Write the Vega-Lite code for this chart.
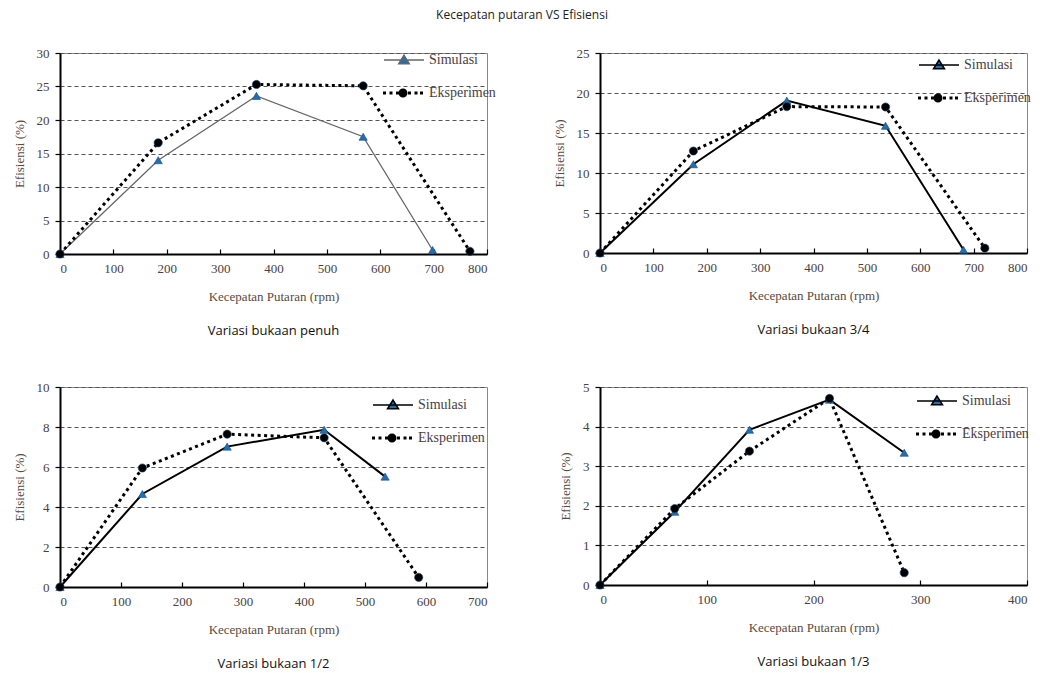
{
  "$schema": "https://vega.github.io/schema/vega-lite/v6.json",
  "background": "white",
  "padding": {"left": 12, "top": 8, "right": 5, "bottom": 5},
  "title": {"text": "Kecepatan putaran VS Efisiensi", "orient": "top", "font": "Open Sans", "fontSize": 12, "fontWeight": "normal", "color": "#222", "anchor": "middle", "offset": 22},
  "data": {"values": [
    {"panel": "penuh", "series": "Simulasi", "rpm": 0, "eff": 0},
    {"panel": "penuh", "series": "Simulasi", "rpm": 184, "eff": 14.0},
    {"panel": "penuh", "series": "Simulasi", "rpm": 368, "eff": 23.6},
    {"panel": "penuh", "series": "Simulasi", "rpm": 568, "eff": 17.5},
    {"panel": "penuh", "series": "Simulasi", "rpm": 698, "eff": 0.6},
    {"panel": "penuh", "series": "Eksperimen", "rpm": 0, "eff": 0},
    {"panel": "penuh", "series": "Eksperimen", "rpm": 184, "eff": 16.6},
    {"panel": "penuh", "series": "Eksperimen", "rpm": 368, "eff": 25.3},
    {"panel": "penuh", "series": "Eksperimen", "rpm": 568, "eff": 25.1},
    {"panel": "penuh", "series": "Eksperimen", "rpm": 768, "eff": 0.4},
    {"panel": "tiga", "series": "Simulasi", "rpm": 0, "eff": 0},
    {"panel": "tiga", "series": "Simulasi", "rpm": 175, "eff": 11.1},
    {"panel": "tiga", "series": "Simulasi", "rpm": 350, "eff": 19.05},
    {"panel": "tiga", "series": "Simulasi", "rpm": 535, "eff": 15.9},
    {"panel": "tiga", "series": "Simulasi", "rpm": 681, "eff": 0.4},
    {"panel": "tiga", "series": "Eksperimen", "rpm": 0, "eff": 0},
    {"panel": "tiga", "series": "Eksperimen", "rpm": 175, "eff": 12.75},
    {"panel": "tiga", "series": "Eksperimen", "rpm": 350, "eff": 18.3},
    {"panel": "tiga", "series": "Eksperimen", "rpm": 535, "eff": 18.25},
    {"panel": "tiga", "series": "Eksperimen", "rpm": 721, "eff": 0.6},
    {"panel": "dua", "series": "Simulasi", "rpm": 0, "eff": 0},
    {"panel": "dua", "series": "Simulasi", "rpm": 135, "eff": 4.65},
    {"panel": "dua", "series": "Simulasi", "rpm": 274, "eff": 7.02},
    {"panel": "dua", "series": "Simulasi", "rpm": 433, "eff": 7.86},
    {"panel": "dua", "series": "Simulasi", "rpm": 533, "eff": 5.52},
    {"panel": "dua", "series": "Eksperimen", "rpm": 0, "eff": 0},
    {"panel": "dua", "series": "Eksperimen", "rpm": 135, "eff": 5.95},
    {"panel": "dua", "series": "Eksperimen", "rpm": 274, "eff": 7.64},
    {"panel": "dua", "series": "Eksperimen", "rpm": 433, "eff": 7.46},
    {"panel": "dua", "series": "Eksperimen", "rpm": 588, "eff": 0.48},
    {"panel": "sepertiga", "series": "Simulasi", "rpm": 0, "eff": 0},
    {"panel": "sepertiga", "series": "Simulasi", "rpm": 70, "eff": 1.85},
    {"panel": "sepertiga", "series": "Simulasi", "rpm": 140, "eff": 3.92},
    {"panel": "sepertiga", "series": "Simulasi", "rpm": 215, "eff": 4.68},
    {"panel": "sepertiga", "series": "Simulasi", "rpm": 285, "eff": 3.34},
    {"panel": "sepertiga", "series": "Eksperimen", "rpm": 0, "eff": 0},
    {"panel": "sepertiga", "series": "Eksperimen", "rpm": 70, "eff": 1.93},
    {"panel": "sepertiga", "series": "Eksperimen", "rpm": 140, "eff": 3.38},
    {"panel": "sepertiga", "series": "Eksperimen", "rpm": 215, "eff": 4.71},
    {"panel": "sepertiga", "series": "Eksperimen", "rpm": 285, "eff": 0.31}
  ]},
  "columns": 2,
  "spacing": {"row": 41, "column": 55},
  "resolve": {"scale": {"shape": "independent", "fill": "independent", "color": "independent", "strokeDash": "independent", "x": "independent", "y": "independent"}, "legend": {"color": "independent", "strokeDash": "independent"}},
  "concat": [
    {
      "title": {"text": "Variasi bukaan penuh"},
      "width": 427, "height": 201,
      "transform": [{"filter": "datum.panel === 'penuh'"}],
      "encoding": {
        "x": {"field": "rpm", "type": "quantitative", "scale": {"domain": [0, 800], "nice": false}, "axis": {"values": [0, 100, 200, 300, 400, 500, 600, 700, 800], "title": "Kecepatan Putaran (rpm)"}},
        "y": {"field": "eff", "type": "quantitative", "scale": {"domain": [0, 30], "nice": false}, "axis": {"values": [0, 5, 10, 15, 20, 25, 30], "title": "Efisiensi (%)"}}
      },
      "layer": [
        {"transform": [{"filter": "datum.series === 'Simulasi'"}], "mark": {"type": "line", "strokeWidth": 1.3},
         "encoding": {"color": {"field": "series", "type": "nominal", "scale": {"domain": ["Simulasi"], "range": ["#666"]},
           "legend": {"title": null, "orient": "top-right", "offset": -9, "padding": 0, "labelOffset": 9, "symbolSize": 900, "labelFont": "Liberation Serif", "labelFontSize": 14, "labelColor": "#4a4040",
             "symbolType": "M-1.333,0L1.333,0M0,-0.33L0.36,0.25L-0.36,0.25Z", "symbolFillColor": "#1f6fb5", "symbolStrokeColor": "#666", "symbolStrokeWidth": 1.3, "symbolOpacity": 1}}}},
        {"transform": [{"filter": "datum.series === 'Eksperimen'"}], "mark": {"type": "line", "color": "#000", "strokeWidth": 3},
         "encoding": {"strokeDash": {"field": "series", "type": "nominal", "scale": {"domain": ["Eksperimen"], "range": [[3, 3.5]]},
           "legend": {"title": null, "orient": "top-right", "offset": -9, "padding": 0, "labelOffset": 11, "symbolSize": 900, "labelFont": "Liberation Serif", "labelFontSize": 14, "labelColor": "#4a4040",
             "symbolType": "M-1.333,-0.1h0.2v0.2h-0.2ZM-0.9,-0.1h0.2v0.2h-0.2ZM-0.467,-0.1h0.2v0.2h-0.2ZM0.333,-0.1h0.2v0.2h-0.2ZM0.767,-0.1h0.2v0.2h-0.2ZM1.133,-0.1h0.2v0.2h-0.2ZM0.3,0A0.3,0.3 0 1,1 -0.3,0A0.3,0.3 0 1,1 0.3,0Z", "symbolFillColor": "#000", "symbolStrokeColor": "#000", "symbolStrokeWidth": 0, "symbolOpacity": 1}}}},
        {"mark": {"type": "point", "filled": true, "size": 68, "opacity": 1},
         "encoding": {
           "shape": {"field": "series", "type": "nominal", "scale": {"domain": ["Simulasi", "Eksperimen"], "range": ["triangle-up", "circle"]}, "legend": null},
           "fill": {"field": "series", "type": "nominal", "scale": {"domain": ["Simulasi", "Eksperimen"], "range": ["#1f6fb5", "#000"]}, "legend": null}
         }}
      ]
    },
    {
      "title": {"text": "Variasi bukaan 3/4"},
      "width": 427, "height": 200,
      "transform": [{"filter": "datum.panel === 'tiga'"}],
      "encoding": {
        "x": {"field": "rpm", "type": "quantitative", "scale": {"domain": [0, 800], "nice": false}, "axis": {"values": [0, 100, 200, 300, 400, 500, 600, 700, 800], "title": "Kecepatan Putaran (rpm)"}},
        "y": {"field": "eff", "type": "quantitative", "scale": {"domain": [0, 25], "nice": false}, "axis": {"values": [0, 5, 10, 15, 20, 25], "title": "Efisiensi (%)"}}
      },
      "layer": [
        {"transform": [{"filter": "datum.series === 'Simulasi'"}], "mark": {"type": "line", "strokeWidth": 2},
         "encoding": {"color": {"field": "series", "type": "nominal", "scale": {"domain": ["Simulasi"], "range": ["#000"]},
           "legend": {"title": null, "orient": "top-right", "offset": -4, "padding": 0, "labelOffset": 9, "symbolSize": 900, "labelFont": "Liberation Serif", "labelFontSize": 14, "labelColor": "#4a4040",
             "symbolType": "M-1.333,0L1.333,0M0,-0.33L0.36,0.25L-0.36,0.25Z", "symbolFillColor": "#1f6fb5", "symbolStrokeColor": "#000", "symbolStrokeWidth": 1.6, "symbolOpacity": 1}}}},
        {"transform": [{"filter": "datum.series === 'Eksperimen'"}], "mark": {"type": "line", "color": "#000", "strokeWidth": 3},
         "encoding": {"strokeDash": {"field": "series", "type": "nominal", "scale": {"domain": ["Eksperimen"], "range": [[3, 3.5]]},
           "legend": {"title": null, "orient": "top-right", "offset": -4, "padding": 0, "labelOffset": 11, "symbolSize": 900, "labelFont": "Liberation Serif", "labelFontSize": 14, "labelColor": "#4a4040",
             "symbolType": "M-1.333,-0.1h0.2v0.2h-0.2ZM-0.9,-0.1h0.2v0.2h-0.2ZM-0.467,-0.1h0.2v0.2h-0.2ZM0.333,-0.1h0.2v0.2h-0.2ZM0.767,-0.1h0.2v0.2h-0.2ZM1.133,-0.1h0.2v0.2h-0.2ZM0.3,0A0.3,0.3 0 1,1 -0.3,0A0.3,0.3 0 1,1 0.3,0Z", "symbolFillColor": "#000", "symbolStrokeColor": "#000", "symbolStrokeWidth": 0, "symbolOpacity": 1}}}},
        {"mark": {"type": "point", "filled": true, "size": 68, "opacity": 1},
         "encoding": {
           "shape": {"field": "series", "type": "nominal", "scale": {"domain": ["Simulasi", "Eksperimen"], "range": ["triangle-up", "circle"]}, "legend": null},
           "fill": {"field": "series", "type": "nominal", "scale": {"domain": ["Simulasi", "Eksperimen"], "range": ["#1f6fb5", "#000"]}, "legend": null}
         }}
      ]
    },
    {
      "title": {"text": "Variasi bukaan 1/2"},
      "width": 427, "height": 200,
      "transform": [{"filter": "datum.panel === 'dua'"}],
      "encoding": {
        "x": {"field": "rpm", "type": "quantitative", "scale": {"domain": [0, 700], "nice": false}, "axis": {"values": [0, 100, 200, 300, 400, 500, 600, 700], "title": "Kecepatan Putaran (rpm)"}},
        "y": {"field": "eff", "type": "quantitative", "scale": {"domain": [0, 10], "nice": false}, "axis": {"values": [0, 2, 4, 6, 8, 10], "title": "Efisiensi (%)"}}
      },
      "layer": [
        {"transform": [{"filter": "datum.series === 'Simulasi'"}], "mark": {"type": "line", "strokeWidth": 2},
         "encoding": {"color": {"field": "series", "type": "nominal", "scale": {"domain": ["Simulasi"], "range": ["#000"]},
           "legend": {"title": null, "orient": "top-right", "offset": 2, "padding": 0, "labelOffset": 9, "symbolSize": 900, "labelFont": "Liberation Serif", "labelFontSize": 14, "labelColor": "#4a4040",
             "symbolType": "M-1.333,0L1.333,0M0,-0.33L0.36,0.25L-0.36,0.25Z", "symbolFillColor": "#1f6fb5", "symbolStrokeColor": "#000", "symbolStrokeWidth": 1.6, "symbolOpacity": 1}}}},
        {"transform": [{"filter": "datum.series === 'Eksperimen'"}], "mark": {"type": "line", "color": "#000", "strokeWidth": 3},
         "encoding": {"strokeDash": {"field": "series", "type": "nominal", "scale": {"domain": ["Eksperimen"], "range": [[3, 3.5]]},
           "legend": {"title": null, "orient": "top-right", "offset": 2, "padding": 0, "labelOffset": 11, "symbolSize": 900, "labelFont": "Liberation Serif", "labelFontSize": 14, "labelColor": "#4a4040",
             "symbolType": "M-1.333,-0.1h0.2v0.2h-0.2ZM-0.9,-0.1h0.2v0.2h-0.2ZM-0.467,-0.1h0.2v0.2h-0.2ZM0.333,-0.1h0.2v0.2h-0.2ZM0.767,-0.1h0.2v0.2h-0.2ZM1.133,-0.1h0.2v0.2h-0.2ZM0.3,0A0.3,0.3 0 1,1 -0.3,0A0.3,0.3 0 1,1 0.3,0Z", "symbolFillColor": "#000", "symbolStrokeColor": "#000", "symbolStrokeWidth": 0, "symbolOpacity": 1}}}},
        {"mark": {"type": "point", "filled": true, "size": 68, "opacity": 1},
         "encoding": {
           "shape": {"field": "series", "type": "nominal", "scale": {"domain": ["Simulasi", "Eksperimen"], "range": ["triangle-up", "circle"]}, "legend": null},
           "fill": {"field": "series", "type": "nominal", "scale": {"domain": ["Simulasi", "Eksperimen"], "range": ["#1f6fb5", "#000"]}, "legend": null}
         }}
      ]
    },
    {
      "title": {"text": "Variasi bukaan 1/3"},
      "width": 427, "height": 198,
      "transform": [{"filter": "datum.panel === 'sepertiga'"}],
      "encoding": {
        "x": {"field": "rpm", "type": "quantitative", "scale": {"domain": [0, 400], "nice": false}, "axis": {"values": [0, 100, 200, 300, 400], "title": "Kecepatan Putaran (rpm)"}},
        "y": {"field": "eff", "type": "quantitative", "scale": {"domain": [0, 5], "nice": false}, "axis": {"values": [0, 1, 2, 3, 4, 5], "title": "Efisiensi (%)"}}
      },
      "layer": [
        {"transform": [{"filter": "datum.series === 'Simulasi'"}], "mark": {"type": "line", "strokeWidth": 2},
         "encoding": {"color": {"field": "series", "type": "nominal", "scale": {"domain": ["Simulasi"], "range": ["#000"]},
           "legend": {"title": null, "orient": "top-right", "offset": -2, "padding": 0, "labelOffset": 9, "symbolSize": 900, "labelFont": "Liberation Serif", "labelFontSize": 14, "labelColor": "#4a4040",
             "symbolType": "M-1.333,0L1.333,0M0,-0.33L0.36,0.25L-0.36,0.25Z", "symbolFillColor": "#1f6fb5", "symbolStrokeColor": "#000", "symbolStrokeWidth": 1.6, "symbolOpacity": 1}}}},
        {"transform": [{"filter": "datum.series === 'Eksperimen'"}], "mark": {"type": "line", "color": "#000", "strokeWidth": 3},
         "encoding": {"strokeDash": {"field": "series", "type": "nominal", "scale": {"domain": ["Eksperimen"], "range": [[3, 3.5]]},
           "legend": {"title": null, "orient": "top-right", "offset": -2, "padding": 0, "labelOffset": 11, "symbolSize": 900, "labelFont": "Liberation Serif", "labelFontSize": 14, "labelColor": "#4a4040",
             "symbolType": "M-1.333,-0.1h0.2v0.2h-0.2ZM-0.9,-0.1h0.2v0.2h-0.2ZM-0.467,-0.1h0.2v0.2h-0.2ZM0.333,-0.1h0.2v0.2h-0.2ZM0.767,-0.1h0.2v0.2h-0.2ZM1.133,-0.1h0.2v0.2h-0.2ZM0.3,0A0.3,0.3 0 1,1 -0.3,0A0.3,0.3 0 1,1 0.3,0Z", "symbolFillColor": "#000", "symbolStrokeColor": "#000", "symbolStrokeWidth": 0, "symbolOpacity": 1}}}},
        {"mark": {"type": "point", "filled": true, "size": 68, "opacity": 1},
         "encoding": {
           "shape": {"field": "series", "type": "nominal", "scale": {"domain": ["Simulasi", "Eksperimen"], "range": ["triangle-up", "circle"]}, "legend": null},
           "fill": {"field": "series", "type": "nominal", "scale": {"domain": ["Simulasi", "Eksperimen"], "range": ["#1f6fb5", "#000"]}, "legend": null}
         }}
      ]
    }
  ],
  "config": {
    "view": {"stroke": "#888", "strokeWidth": 1},
    "title": {"orient": "bottom", "font": "Open Sans", "fontSize": 13, "fontWeight": "normal", "color": "#111", "offset": 22, "anchor": "middle"},
    "point": {"stroke": "#1a4a78", "strokeWidth": 0.6},
    "legend": {"layout": {"top-right": {"direction": "vertical", "anchor": "start", "margin": 11}}},
    "axis": {
      "labelFont": "Liberation Serif", "labelFontSize": 13, "labelColor": "#4a4040",
      "titleFont": "Liberation Serif", "titleFontSize": 13, "titleFontWeight": "normal", "titleColor": "#5b4a3b",
      "domainColor": "#000", "domainWidth": 2, "tickColor": "#000", "tickWidth": 1.2,
      "gridColor": "#555", "gridDash": [4, 3], "gridWidth": 1.2
    },
    "axisX": {"grid": false, "tickSize": -5, "labelPadding": 13, "titlePadding": 15},
    "axisY": {"grid": true, "tickSize": 5, "labelPadding": 6, "titlePadding": 10}
  }
}
